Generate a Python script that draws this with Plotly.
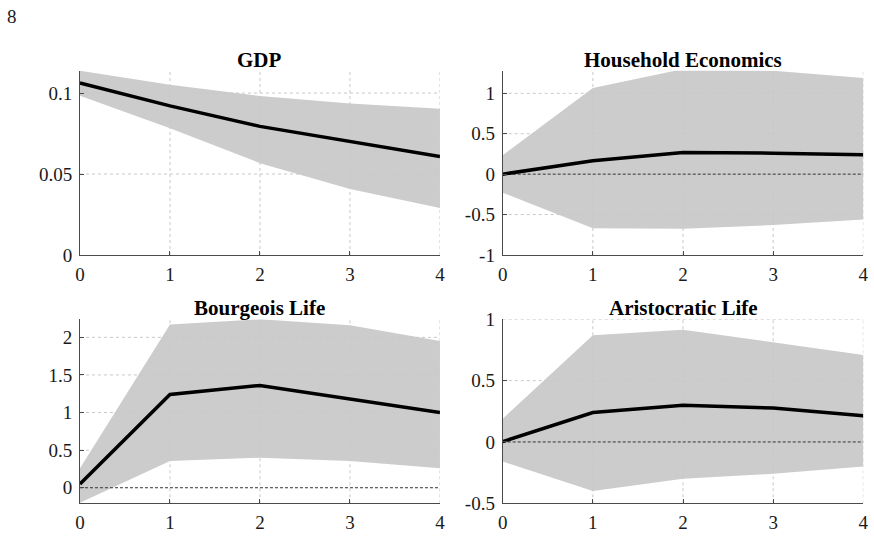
import plotly.graph_objects as go

steps = [0, 1, 2, 3, 4]
titles = ["GDP", "Household Economics", "Bourgeois Life", "Aristocratic Life"]

gdp_mean = [0.1062, 0.0921, 0.0794, 0.0701, 0.0608]
gdp_upper = [0.1138, 0.1051, 0.0981, 0.0936, 0.0903]
gdp_lower = [0.0983, 0.0783, 0.0567, 0.0408, 0.0290]

hh_mean = [0.0, 0.165, 0.268, 0.260, 0.239]
hh_upper = [0.235, 1.067, 1.30, 1.28, 1.19]
hh_lower = [-0.23, -0.668, -0.676, -0.63, -0.56]

bl_mean = [0.049, 1.24, 1.36, 1.18, 1.00]
bl_upper = [0.26, 2.17, 2.24, 2.16, 1.95]
bl_lower = [-0.20, 0.355, 0.40, 0.355, 0.26]

al_mean = [0.003, 0.24, 0.30, 0.276, 0.213]
al_upper = [0.19, 0.87, 0.915, 0.815, 0.71]
al_lower = [-0.16, -0.40, -0.30, -0.26, -0.20]

yticks = [
    [0, 0.05, 0.1],
    [-1, -0.5, 0, 0.5, 1],
    [0, 0.5, 1, 1.5, 2],
    [-0.5, 0, 0.5, 1],
]
yticktext = [
    ["0", "0.05", "0.1"],
    ["-1", "-0.5", "0", "0.5", "1"],
    ["0", "0.5", "1", "1.5", "2"],
    ["-0.5", "0", "0.5", "1"],
]
yranges = [[0, 0.1138], [-1, 1.28], [-0.207, 2.24], [-0.5, 1.0]]

means = [gdp_mean, hh_mean, bl_mean, al_mean]
uppers = [gdp_upper, hh_upper, bl_upper, al_upper]
lowers = [gdp_lower, hh_lower, bl_lower, al_lower]

xdomains = [[0.0915, 0.5034], [0.5752, 0.9878], [0.0915, 0.5034], [0.5752, 0.9878]]
ydomains = [[0.5243, 0.8681], [0.5243, 0.8681], [0.0610, 0.4043], [0.0610, 0.4043]]

FONT = "Liberation Serif, Times New Roman, serif"
AXC = "#4a4a4a"
GRIDC = "#c8c8c8"
TXT = "#1a1a1a"

fig = go.Figure()
layout = dict(
    width=874, height=536,
    margin=dict(l=0, r=0, t=0, b=0, autoexpand=False),
    paper_bgcolor="white", plot_bgcolor="white",
    showlegend=False,
    font=dict(family=FONT, size=19, color=TXT),
)
annotations = []

for i in range(4):
    sfx = "" if i == 0 else str(i + 1)
    xa, ya = "x" + sfx, "y" + sfx
    lo, hi = yranges[i]
    # band
    fig.add_trace(go.Scatter(
        x=steps + steps[::-1], y=uppers[i] + lowers[i][::-1],
        fill="toself", fillcolor="#cccccc", line=dict(width=0),
        mode="lines", xaxis=xa, yaxis=ya, hoverinfo="skip"))
    # grid lines
    gx, gy = [], []
    for s in steps[1:]:
        gx += [s, s, None]
        gy += [lo, hi, None]
    for t in yticks[i]:
        if t == 0 or t == lo:
            continue
        gx += [steps[0], steps[-1], None]
        gy += [t, t, None]
    fig.add_trace(go.Scatter(
        x=gx, y=gy, mode="lines",
        line=dict(color=GRIDC, width=1, dash="3px,3px"),
        xaxis=xa, yaxis=ya, hoverinfo="skip"))
    # zero dashed line
    if lo < 0:
        fig.add_trace(go.Scatter(
            x=[steps[0], steps[-1]], y=[0, 0], mode="lines",
            line=dict(color="#333333", width=1, dash="3px,2px"),
            xaxis=xa, yaxis=ya, hoverinfo="skip"))
    # mean line
    fig.add_trace(go.Scatter(
        x=steps, y=means[i], mode="lines",
        line=dict(color="black", width=3.5),
        xaxis=xa, yaxis=ya))

    xkey = "xaxis" + sfx
    ykey = "yaxis" + sfx
    layout[xkey] = dict(
        domain=xdomains[i], anchor=ya, range=[0, 4],
        tickvals=steps, ticktext=[str(s) for s in steps],
        showgrid=False, zeroline=False, automargin=False,
        showline=True, linecolor=AXC, linewidth=1,
        ticks="inside", ticklen=4, tickcolor=AXC,
        tickfont=dict(family=FONT, size=19, color=TXT),
        ticklabelstandoff=2,
        layer="above traces",
    )
    layout[ykey] = dict(
        domain=ydomains[i], anchor=xa, range=yranges[i],
        tickvals=yticks[i], ticktext=yticktext[i],
        showgrid=False, zeroline=False, automargin=False,
        showline=True, linecolor=AXC, linewidth=1,
        ticks="inside", ticklen=4, tickcolor=AXC,
        tickfont=dict(family=FONT, size=19, color=TXT),
        ticklabelstandoff=3,
        layer="above traces",
    )
    annotations.append(dict(
        text="<b>%s</b>" % titles[i], xref="paper", yref="paper",
        x=(xdomains[i][0] + xdomains[i][1]) / 2, y=ydomains[i][1],
        xanchor="center", yanchor="bottom", yshift=-3, showarrow=False,
        font=dict(family=FONT, size=21, color="black")))

annotations.append(dict(
    text="8", xref="paper", yref="paper", x=0.006, y=0.970,
    xanchor="left", yanchor="middle", showarrow=False,
    font=dict(family=FONT, size=19, color=TXT)))

layout["annotations"] = annotations
fig.update_layout(**layout)
fig.write_html("out.html")
